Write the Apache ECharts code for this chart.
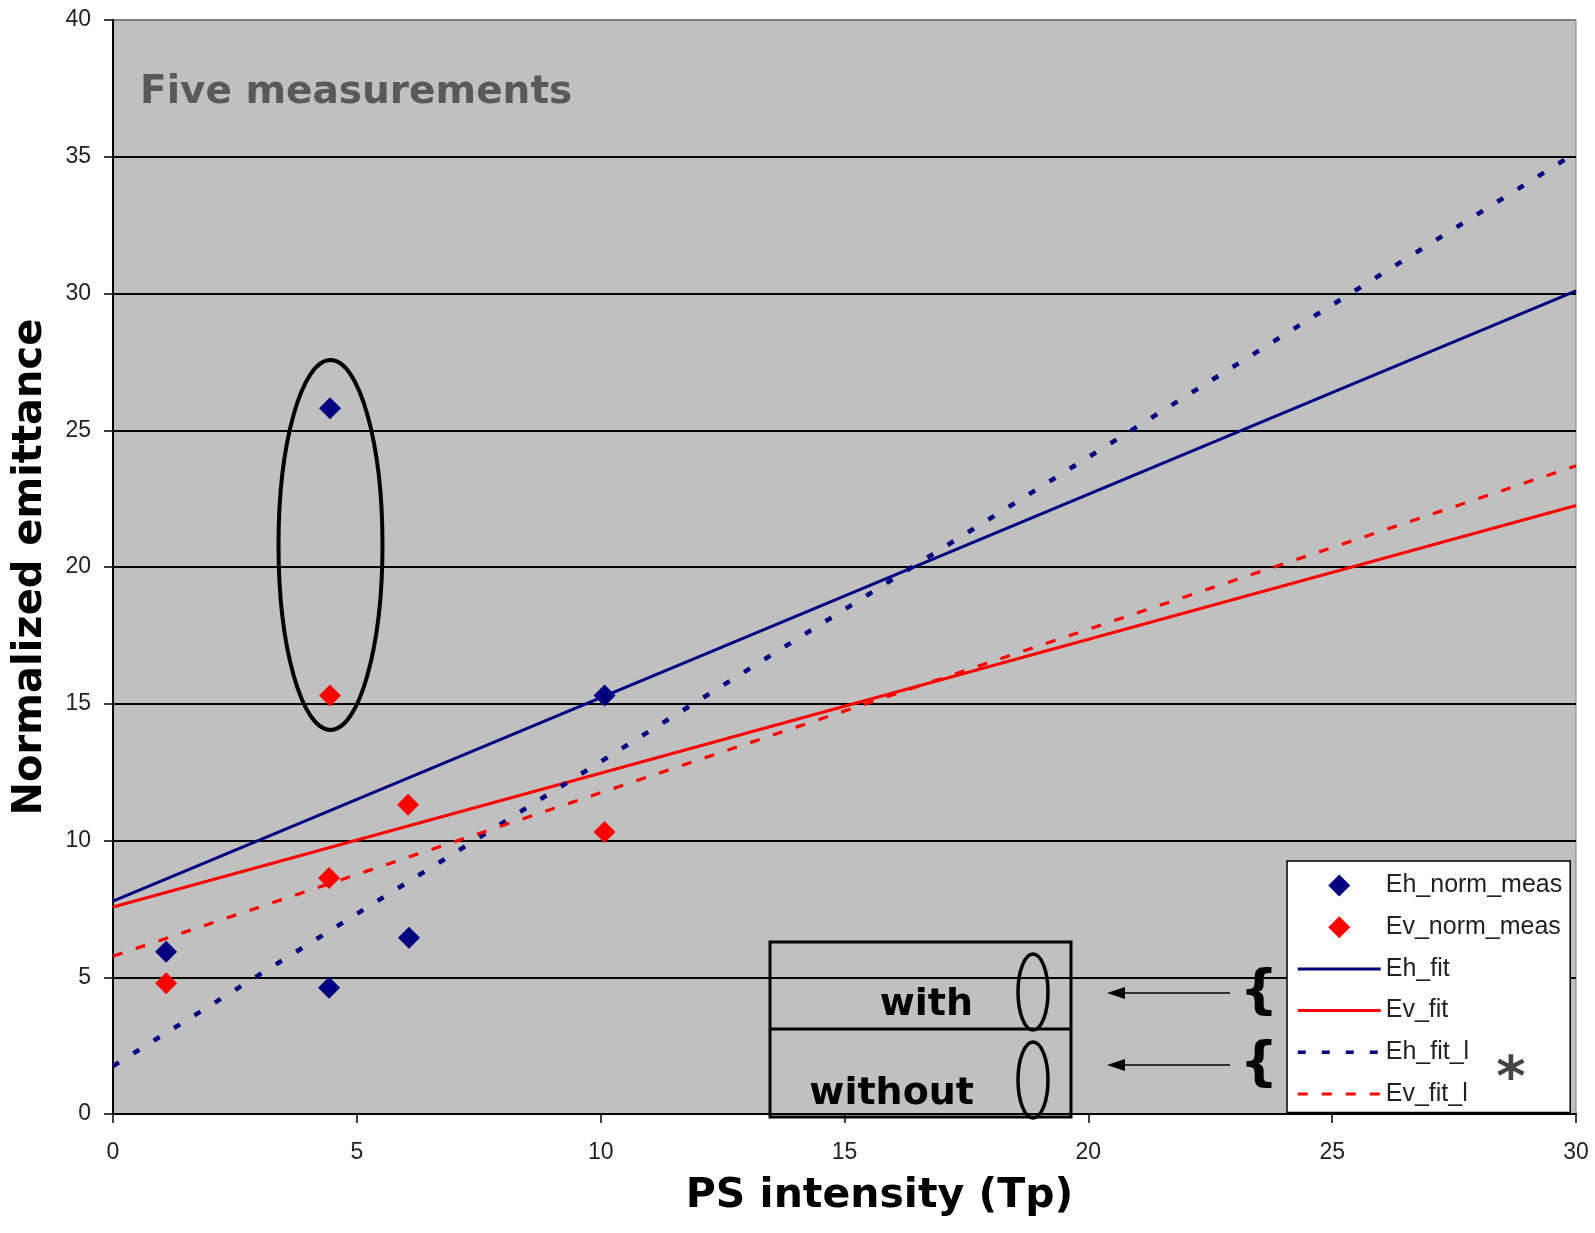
<!DOCTYPE html>
<html><head><meta charset="utf-8">
<script src="https://cdn.jsdelivr.net/npm/echarts@6/dist/echarts.min.js"></script>
<style>html,body{margin:0;padding:0;background:#fff}#c{width:1595px;height:1233px}</style>
</head><body><div id="c"></div>
<script>
// ---- data ----
const ehMeasX = [1.09, 4.45, 4.43, 6.07, 10.08];
const ehMeasY = [5.93, 25.8, 4.62, 6.44, 15.3];
const evMeasX = [1.09, 4.45, 4.43, 6.05, 10.08];
const evMeasY = [4.78, 15.3, 8.63, 11.31, 10.31];
const fitX = [0, 30];
const ehFitY = [7.78, 30.1];
const evFitY = [7.57, 22.25];
const ehFitLY = [1.75, 35.15];
const evFitLY = [5.77, 23.7];
const xRange = [0, 30, 5];
const yRange = [0, 40, 5];
const seriesNames = ['Eh_norm_meas', 'Ev_norm_meas', 'Eh_fit', 'Ev_fit', 'Eh_fit_l', 'Ev_fit_l'];
const xTitle = 'PS intensity (Tp)';
const yTitle = 'Normalized emittance';
const noteTitle = 'Five measurements';

const pair = (xs, ys) => xs.map((x, i) => [x, ys[i]]);
const NAVY = '#000080', RED = '#ff0000';
const bold = '"DejaVu Sans", sans-serif';
const DIAMOND = 'path://M8,0L16,8L8,16L0,8Z';

const chart = echarts.init(document.getElementById('c'));
const gridTop = 20, gridLeft = 113, gridRight = 19, gridBottom = 119;

const splitColors = [];
for (let v = yRange[0]; v <= yRange[1]; v += yRange[2]) splitColors.push(v === yRange[1] ? '#808080' : '#000');

const option = {
  animation: false,
  backgroundColor: '#fff',
  grid: { left: gridLeft, right: gridRight, top: gridTop, bottom: gridBottom, show: true,
          backgroundColor: '#c0c0c0', borderColor: '#808080', borderWidth: 1 },
  xAxis: {
    type: 'value', min: xRange[0], max: xRange[1], interval: xRange[2],
    name: xTitle, nameLocation: 'middle', nameGap: 62,
    nameTextStyle: { fontFamily: bold, fontWeight: 'bold', fontSize: 41, color: '#000', padding: [0, 0, 0, 70] },
    axisLine: { show: true, lineStyle: { color: '#000', width: 2 } },
    axisTick: { show: true, length: 9, lineStyle: { color: '#000', width: 1.5 } },
    axisLabel: { margin: 27, fontFamily: 'Liberation Sans, Arial', fontSize: 23, color: '#222' },
    splitLine: { show: false }
  },
  yAxis: {
    type: 'value', min: yRange[0], max: yRange[1], interval: yRange[2],
    name: yTitle, nameLocation: 'middle', nameGap: 62, nameRotate: 90,
    nameTextStyle: { fontFamily: bold, fontWeight: 'bold', fontSize: 40, color: '#000' },
    axisLine: { show: true, onZero: false, lineStyle: { color: '#000', width: 2 } },
    axisTick: { show: true, length: 9, lineStyle: { color: '#000', width: 1.5 } },
    axisLabel: { margin: 22, fontFamily: 'Liberation Sans, Arial', fontSize: 23, color: '#222' },
    splitLine: { show: true, lineStyle: { color: splitColors, width: 2 } }
  },
  legend: {
    orient: 'vertical', left: 1287, top: 861, selectedMode: false, symbolKeepAspect: true,
    padding: [12, 8, 6, 9], itemGap: 16.7, itemWidth: 83, itemHeight: 22,
    backgroundColor: '#fff', borderColor: '#000', borderWidth: 1.5, borderRadius: 0,
    textStyle: { fontFamily: 'Liberation Sans, Arial', fontSize: 25, lineHeight: 25, color: '#222' },
    data: [
      { name: seriesNames[0], icon: DIAMOND },
      { name: seriesNames[1], icon: DIAMOND },
      { name: seriesNames[2], itemStyle: { opacity: 0 }, lineStyle: { width: 3 } },
      { name: seriesNames[3], itemStyle: { opacity: 0 }, lineStyle: { width: 3 } },
      { name: seriesNames[4], itemStyle: { opacity: 0 }, lineStyle: { type: [8, 16], width: 3.5 } },
      { name: seriesNames[5], itemStyle: { opacity: 0 }, lineStyle: { type: [10, 14], width: 3 } }
    ]
  },
  series: [
    { name: seriesNames[0], type: 'scatter', symbol: 'diamond', symbolSize: 22, z: 5,
      itemStyle: { color: NAVY, opacity: 1 }, data: pair(ehMeasX, ehMeasY) },
    { name: seriesNames[1], type: 'scatter', symbol: 'diamond', symbolSize: 22, z: 5,
      itemStyle: { color: RED, opacity: 1 }, data: pair(evMeasX, evMeasY) },
    { name: seriesNames[2], type: 'line', symbol: 'none', showSymbol: false, z: 3,
      lineStyle: { color: NAVY, width: 3 }, itemStyle: { color: NAVY }, data: pair(fitX, ehFitY) },
    { name: seriesNames[3], type: 'line', symbol: 'none', showSymbol: false, z: 3,
      lineStyle: { color: RED, width: 3 }, itemStyle: { color: RED }, data: pair(fitX, evFitY) },
    { name: seriesNames[4], type: 'line', symbol: 'none', showSymbol: false, z: 3,
      lineStyle: { color: NAVY, width: 4.5, type: [7, 17] }, itemStyle: { color: NAVY }, data: pair(fitX, ehFitLY) },
    { name: seriesNames[5], type: 'line', symbol: 'none', showSymbol: false, z: 3,
      lineStyle: { color: RED, width: 3.2, type: [10, 14] }, itemStyle: { color: RED }, data: pair(fitX, evFitLY) }
  ],
  graphic: [
    { type: 'text', z: 10, style: { text: noteTitle, x: 140, y: 93, textVerticalAlign: 'middle', textAlign: 'left',
      font: 'bold 39px "DejaVu Sans", sans-serif', fill: '#595959' } },
    { type: 'ellipse', z: 10, shape: { cx: 330.5, cy: 545, rx: 52, ry: 185 },
      style: { fill: 'none', stroke: '#000', lineWidth: 4 } },
    { type: 'rect', z: 10, shape: { x: 770, y: 942, width: 301, height: 175 },
      style: { fill: 'none', stroke: '#000', lineWidth: 3 } },
    { type: 'line', z: 10, shape: { x1: 770, y1: 1029, x2: 1071, y2: 1029 }, style: { stroke: '#000', lineWidth: 3 } },
    { type: 'text', z: 10, style: { text: 'with', x: 973, y: 1005, textAlign: 'right', textVerticalAlign: 'middle',
      font: 'bold 38px "DejaVu Sans", sans-serif', fill: '#000' } },
    { type: 'text', z: 10, style: { text: 'without', x: 974, y: 1094, textAlign: 'right', textVerticalAlign: 'middle',
      font: 'bold 38px "DejaVu Sans", sans-serif', fill: '#000' } },
    { type: 'ellipse', z: 10, shape: { cx: 1033, cy: 992, rx: 15, ry: 38 }, style: { fill: 'none', stroke: '#000', lineWidth: 3.5 } },
    { type: 'ellipse', z: 10, shape: { cx: 1033, cy: 1080, rx: 15, ry: 38 }, style: { fill: 'none', stroke: '#000', lineWidth: 3.5 } },
    { type: 'line', z: 10, shape: { x1: 1120, y1: 993, x2: 1230, y2: 993 }, style: { stroke: '#000', lineWidth: 1.5 } },
    { type: 'polygon', z: 10, shape: { points: [[1107, 993], [1125, 987], [1125, 999]] }, style: { fill: '#000' } },
    { type: 'line', z: 10, shape: { x1: 1120, y1: 1065, x2: 1230, y2: 1065 }, style: { stroke: '#000', lineWidth: 1.5 } },
    { type: 'polygon', z: 10, shape: { points: [[1107, 1065], [1125, 1059], [1125, 1071]] }, style: { fill: '#000' } },
    { type: 'text', z: 10, style: { text: '{', x: 1259, y: 994, textAlign: 'center', textVerticalAlign: 'middle',
      font: 'bold 54px "DejaVu Sans", sans-serif', fill: '#000' } },
    { type: 'text', z: 10, style: { text: '{', x: 1259, y: 1066, textAlign: 'center', textVerticalAlign: 'middle',
      font: 'bold 54px "DejaVu Sans", sans-serif', fill: '#000' } },
    { type: 'text', z: 10, style: { text: '*', x: 1511, y: 1080, textAlign: 'center', textVerticalAlign: 'middle',
      font: 'bold 56px "DejaVu Sans", sans-serif', fill: '#444' } }
  ]
};
chart.setOption(option);
</script>
</body></html>
